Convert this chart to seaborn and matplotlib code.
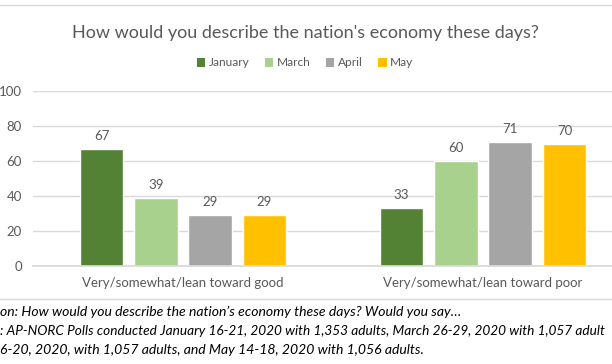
import matplotlib
matplotlib.use("Agg")
import matplotlib.pyplot as plt
import seaborn as sns
import pandas as pd
from matplotlib.patches import Patch
from matplotlib.lines import Line2D

categories = ["Very/somewhat/lean toward good", "Very/somewhat/lean toward poor"]
months = ["January", "March", "April", "May"]
january = [67, 33]
march = [39, 60]
april = [29, 71]
may = [29, 70]
colors = ["#548235", "#A9D18E", "#A5A5A5", "#FFC000"]
yticks = [0, 20, 40, 60, 80, 100]

title = "How would you describe the nation's economy these days?"
notes = [
    "on: How would you describe the nation\u2019s economy these days? Would you say\u2026",
    ": AP-NORC Polls conducted January 16-21, 2020 with 1,353 adults, March 26-29, 2020 with 1,057 adult",
    "6-20, 2020, with 1,057 adults, and May 14-18, 2020 with 1,056 adults.",
]

rows = []
for m, vals in zip(months, [january, march, april, may]):
    for c, v in zip(categories, vals):
        rows.append({"category": c, "month": m, "value": v})
df = pd.DataFrame(rows)

sns.set_theme(style="white")
plt.rcParams["font.family"] = ["Lato", "DejaVu Sans"]
TXT = "#595959"

W, H = 612, 364
fig = plt.figure(figsize=(W / 100, H / 100), dpi=100)
ax = fig.add_axes([33 / W, 1 - 266 / H, (W - 33) / W, (266 - 91) / H])

sns.barplot(data=df, x="category", y="value", hue="month", order=categories,
            hue_order=months, palette=colors, width=0.724, gap=0.2,
            saturation=1, ax=ax, legend=False, errorbar=None)

for cont in ax.containers:
    ax.bar_label(cont, padding=5, fontsize=9.5, color=TXT)

ax.set_xlim(-0.5, -0.5 + (W - 33) / 300)
ax.set_ylim(0, 100)
ax.set_yticks(yticks)
ax.yaxis.grid(True, color="#D9D9D9", linewidth=1)
ax.set_axisbelow(True)
for s in ["top", "right", "left"]:
    ax.spines[s].set_visible(False)
ax.spines["bottom"].set_color("#D9D9D9")
ax.tick_params(axis="y", length=0, pad=8, labelsize=9.5, labelcolor=TXT)
ax.tick_params(axis="x", length=0, pad=8, labelsize=9.5, labelcolor=TXT)
ax.set_xlabel("")
ax.set_ylabel("")

fig.text(305 / W, 1 - 33 / H, title, ha="center", va="center", fontsize=13, color=TXT)

handles = [Patch(facecolor=c, edgecolor="none", label=m) for c, m in zip(colors, months)]
fig.legend(handles=handles, loc="center", bbox_to_anchor=(305 / W, 1 - 63 / H), ncol=4,
           frameon=False, fontsize=8.6, handlelength=0.7, handleheight=0.7,
           handletextpad=0.3, columnspacing=1.3, labelcolor=TXT)

fig.add_artist(Line2D([0, 1], [1 - 5 / H, 1 - 5 / H], color="#D9D9D9", linewidth=1))
fig.add_artist(Line2D([0, 1], [1 - 299 / H, 1 - 299 / H], color="#D9D9D9", linewidth=1))

note_sizes = [10.1, 9.85, 10.1]
for i, (t, fs) in enumerate(zip(notes, note_sizes)):
    fig.text(0, 1 - (312 + 19 * i) / H, t, ha="left", va="center", fontsize=fs,
             style="italic", color="#000000")

fig.savefig("out.png", dpi=100)
